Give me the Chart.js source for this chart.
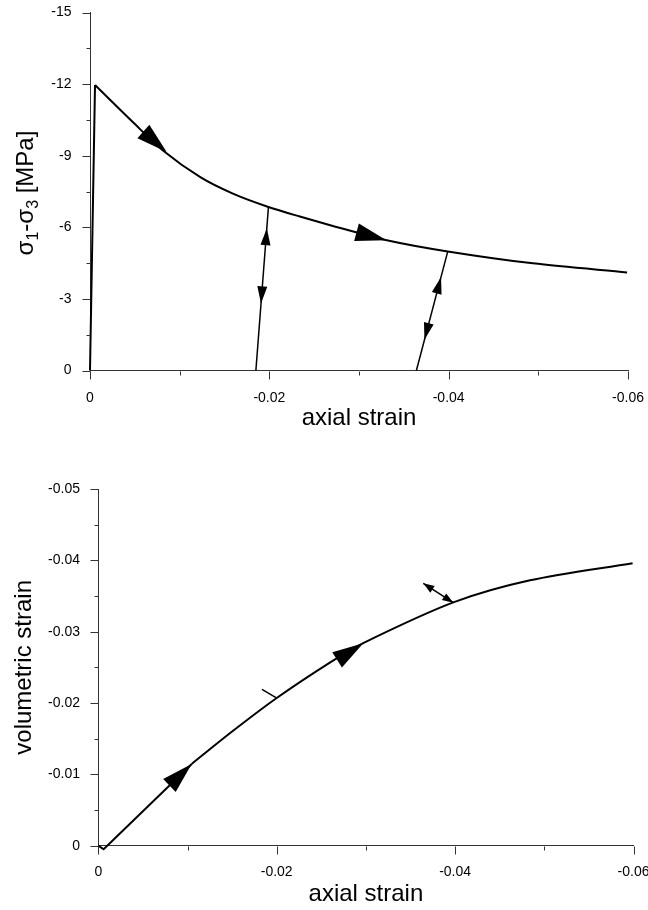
<!DOCTYPE html>
<html>
<head>
<meta charset="utf-8">
<script src="https://cdn.jsdelivr.net/npm/chart.js@4.4.1/dist/chart.umd.min.js"></script>
<style>
html, body { margin: 0; padding: 0; background: #fff; }
#wrap { position: relative; width: 648px; height: 910px; }
canvas { position: absolute; left: 0; }
</style>
</head>
<body>
<div id="wrap">
  <canvas id="topChart" width="648" height="455" style="top:0;width:648px;height:455px"></canvas>
  <canvas id="botChart" width="648" height="455" style="top:455px;width:648px;height:455px"></canvas>
</div>
<script>
// ---- top panel: sigma1-sigma3 vs axial strain
const topLoadStrain = [0, -0.00056];
const topLoadStress = [0, -11.96];
const topSoftStrain = [-0.00056, -0.0048, -0.0081, -0.0123, -0.0160, -0.0199, -0.0234, -0.0267, -0.0331, -0.0399, -0.0494, -0.0599];
const topSoftStress = [-11.96, -10.4, -9.23, -8.1, -7.4, -6.85, -6.45, -6.1, -5.46, -4.99, -4.49, -4.11];
const unload1Strain = [-0.0199, -0.0185];
const unload1Stress = [-6.85, 0];
const unload2Strain = [-0.0399, -0.0364];
const unload2Stress = [-4.99, 0];
const topXTicks = [0, -0.02, -0.04, -0.06];
const topXMinor = [-0.01, -0.03, -0.05];
const topYTicks = [0, -3, -6, -9, -12, -15];
const topYMinor = [-1.5, -4.5, -7.5, -10.5, -13.5];
// arrow heads: tip, and a point behind it on the same line
const topArrowTip  = [[-0.00855, -9.16], [-0.03306, -5.455], [-0.01972, -5.96], [-0.01907, -2.81], [-0.03915, -3.92], [-0.0373, -1.29]];
const topArrowFrom = [[-0.0048, -10.4], [-0.0267, -6.1], [-0.0185, 0], [-0.0199, -6.85], [-0.0364, 0], [-0.0399, -4.99]];

// ---- bottom panel: volumetric strain vs axial strain
const botDipStrain = [0, -0.0006, -0.0105];
const botDipVol = [0, 0.0005, -0.0115];
const botStrain = [-0.0105, -0.0150, -0.0200, -0.0260, -0.0297, -0.0398, -0.0484, -0.0599];
const botVol = [-0.0115, -0.0160, -0.0207, -0.0257, -0.0284, -0.0341, -0.0372, -0.0396];
const markStrain = [-0.01835, -0.01992];
const markVol = [-0.02192, -0.02075];
const dblStrain = [-0.03643, -0.0398];
const dblVol = [-0.03678, -0.03406];
const botXTicks = [0, -0.02, -0.04, -0.06];
const botXMinor = [-0.01, -0.03, -0.05];
const botYTicks = [0, -0.01, -0.02, -0.03, -0.04, -0.05];
const botYMinor = [-0.005, -0.015, -0.025, -0.035, -0.045];
const botArrowTip  = [[-0.01047, -0.01145], [-0.02971, -0.02837], [-0.03643, -0.03678], [-0.0398, -0.03406]];
const botArrowFrom = [[-0.0006, 0.0005], [-0.0200, -0.0207], [-0.0398, -0.03406], [-0.03643, -0.03678]];

const FONT = '"Liberation Sans", Arial, sans-serif';
const pts = (xs, ys) => xs.map((x, i) => ({x: x, y: ys[i]}));
const headSize = { big: [31, 9], small: [17, 5], tiny: [11, 4] };

// minor/major ticks and arrow heads, placed through the chart scales
const decor = {
  id: 'decor',
  afterDatasetsDraw(chart, args, o) {
    const {ctx, scales: {x, y}} = chart;
    ctx.save();
    ctx.fillStyle = '#000';
    o.tips.forEach((t, i) => {
      const f = o.from[i];
      const [len, half] = headSize[o.sizes[i]];
      const px = x.getPixelForValue(t[0]), py = y.getPixelForValue(t[1]);
      const qx = x.getPixelForValue(f[0]), qy = y.getPixelForValue(f[1]);
      const d = Math.hypot(px - qx, py - qy);
      const ux = (px - qx) / d, uy = (py - qy) / d;
      const bx = px - ux * len, by = py - uy * len;
      ctx.beginPath();
      ctx.moveTo(px, py);
      ctx.lineTo(bx - uy * half, by + ux * half);
      ctx.lineTo(bx + uy * half, by - ux * half);
      ctx.closePath();
      ctx.fill();
    });
    ctx.restore();
  },
  afterDraw(chart, args, o) {
    const {ctx, chartArea: a, scales: {x, y}} = chart;
    ctx.save();
    ctx.strokeStyle = '#333';
    ctx.lineWidth = 1;
    ctx.beginPath();
    const xb = Math.round(a.bottom) + 0.5, yl = Math.round(a.left) + 0.5;
    o.xMajor.forEach(v => { const p = Math.round(x.getPixelForValue(v)) + 0.5; ctx.moveTo(p, xb); ctx.lineTo(p, xb + 8); });
    o.xMinor.forEach(v => { const p = Math.round(x.getPixelForValue(v)) + 0.5; ctx.moveTo(p, xb); ctx.lineTo(p, xb + 4); });
    o.yMajor.forEach(v => { const p = Math.round(y.getPixelForValue(v)) + 0.5; ctx.moveTo(yl, p); ctx.lineTo(yl - 8, p); });
    o.yMinor.forEach(v => { const p = Math.round(y.getPixelForValue(v)) + 0.5; ctx.moveTo(yl, p); ctx.lineTo(yl - 4, p); });
    ctx.stroke();
    if (o.sigmaTitle) {
      // sigma_1 - sigma_3 [MPa], with subscripts
      const parts = [['σ', 0], ['1', 1], ['-σ', 0], ['3', 1], [' [MPa]', 0]];
      const big = '24px ' + FONT, small = '16px ' + FONT;
      let w = 0;
      parts.forEach(p => { ctx.font = p[1] ? small : big; w += ctx.measureText(p[0]).width; });
      ctx.translate(33, (a.top + a.bottom) / 2 + 1.5);
      ctx.rotate(-Math.PI / 2);
      ctx.fillStyle = '#000';
      ctx.textBaseline = 'alphabetic';
      let cx = -w / 2;
      parts.forEach(p => {
        ctx.font = p[1] ? small : big;
        ctx.fillText(p[0], cx, p[1] ? 5 : 0);
        cx += ctx.measureText(p[0]).width;
      });
    }
    ctx.restore();
  }
};

function line(data, width, smooth) {
  return {
    data: data, showLine: true, borderColor: '#000', borderWidth: width,
    pointRadius: 0, fill: false, clip: false,
    tension: smooth ? 0.3 : 0
  };
}

function axes(o) {
  return {
    x: {
      type: 'linear', min: -0.06, max: 0, reverse: true,
      grid: { display: false, drawTicks: false },
      border: { display: true, color: '#333', width: 1 },
      afterBuildTicks: s => { s.ticks = o.xTicks.map(v => ({value: v})); },
      afterFit: s => { s.height = o.xHeight; s.paddingLeft = 0; s.paddingRight = 0; },
      ticks: { color: '#000', font: { family: FONT, size: 14 }, padding: o.xPad, maxRotation: 0, callback: v => String(v) },
      title: { display: true, text: 'axial strain', color: '#000', font: { family: FONT, size: 24 }, padding: { top: 0, bottom: o.xTitlePad } }
    },
    y: {
      type: 'linear', min: o.yMin, max: 0, reverse: true,
      grid: { display: false, drawTicks: false },
      border: { display: true, color: '#333', width: 1 },
      afterBuildTicks: s => { s.ticks = o.yTicks.map(v => ({value: v})); },
      afterFit: s => { s.width = o.yWidth; s.paddingTop = 0; s.paddingBottom = 0; },
      ticks: { color: '#000', font: { family: FONT, size: 14 }, padding: o.yPad, callback: v => String(v) },
      title: { display: !!o.yTitle, text: o.yTitle || '', color: '#000', font: { family: FONT, size: 24 }, padding: { top: 10.3, bottom: 0 } }
    }
  };
}

new Chart(document.getElementById('topChart'), {
  type: 'scatter',
  data: {
    datasets: [
      line(pts(topLoadStrain, topLoadStress), 2, false),
      line(pts(topSoftStrain, topSoftStress), 2, true),
      line(pts(unload1Strain, unload1Stress), 1.5, false),
      line(pts(unload2Strain, unload2Stress), 1.5, false)
    ]
  },
  options: {
    responsive: false, animation: false,
    layout: { padding: { left: 0, right: 20, top: 12.5, bottom: 0 } },
    scales: axes({ xTicks: topXTicks, yTicks: topYTicks, yMin: -15, xHeight: 84.5, yWidth: 90, xPad: 19, yPad: 18.5, xTitlePad: 22.5 }),
    plugins: {
      legend: { display: false }, tooltip: { enabled: false },
      decor: { xMajor: topXTicks, xMinor: topXMinor, yMajor: topYTicks, yMinor: topYMinor,
               tips: topArrowTip, from: topArrowFrom, sizes: ['big', 'big', 'small', 'small', 'small', 'small'], sigmaTitle: true }
    }
  },
  plugins: [decor]
});

new Chart(document.getElementById('botChart'), {
  type: 'scatter',
  data: {
    datasets: [
      line(pts(botDipStrain, botDipVol), 2, false),
      line(pts(botStrain, botVol), 2, true),
      line(pts(markStrain, markVol), 1.5, false),
      line(pts(dblStrain, dblVol), 1.5, false)
    ]
  },
  options: {
    responsive: false, animation: false,
    layout: { padding: { left: 0, right: 14.5, top: 34, bottom: 0 } },
    scales: axes({ xTicks: botXTicks, yTicks: botYTicks, yMin: -0.05, xHeight: 64.3, yWidth: 98.3, xPad: 18, yPad: 18.3, xTitlePad: 1.6, yTitle: 'volumetric strain' }),
    plugins: {
      legend: { display: false }, tooltip: { enabled: false },
      decor: { xMajor: botXTicks, xMinor: botXMinor, yMajor: botYTicks, yMinor: botYMinor,
               tips: botArrowTip, from: botArrowFrom, sizes: ['big', 'big', 'tiny', 'tiny'], sigmaTitle: false }
    }
  },
  plugins: [decor]
});
</script>
</body>
</html>
